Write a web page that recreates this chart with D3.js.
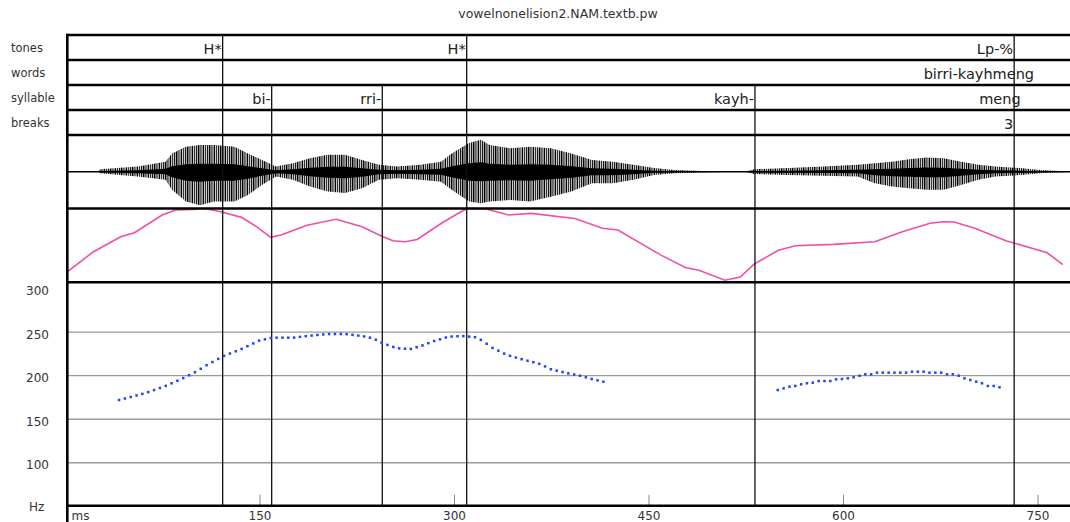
<!DOCTYPE html>
<html><head><meta charset="utf-8">
<script src="https://cdn.jsdelivr.net/npm/d3@7"></script>
<style>html,body{margin:0;padding:0;background:#fff}svg{display:block}text{font-family:"DejaVu Sans",sans-serif}</style>
</head><body><svg id="c" width="1070" height="522"></svg>
<script>
// ---------------- data ----------------
const title = "vowelnonelision2.NAM.textb.pw";
const tierNames = ["tones", "words", "syllable", "breaks"];
const toneTimes = [121.2, 309.4, 731.6];
const toneLabels = ["H*", "H*", "Lp-%"];
const wordTimes = [747.7];
const wordLabels = ["birri-kayhmeng"];
const syllableTimes = [159.0, 244.3, 531.7, 737.4];
const syllableLabels = ["bi-", "rri-", "kayh-", "meng"];
const syllableBoundaries = [159.0, 244.3, 531.7];
const breakTimes = [731.6];
const breakLabels = ["3"];
const timeTicks = [150, 300, 450, 600, 750];
const hzTicks = [100, 150, 200, 250, 300];
const hzGrid = [100, 150, 200, 250];

// waveform envelope (normalised amplitude)
const waveTimes = [0, 25.8, 26.6, 55.9, 77.1, 82.1, 92.9, 103.7, 114.5, 130.3, 140.7, 151.5, 162.3, 175.4, 188.5, 202.1, 215.5, 228.7, 241.8, 255.3, 273.9, 289.6, 297.8, 311.2, 320.4, 327.1, 342.8, 358.2, 374.2, 390.1, 406, 422.1, 438, 453.9, 469.9, 491.2, 517.9, 524, 531, 557.6, 584.2, 610.9, 624.1, 637.4, 650.5, 664.1, 677.3, 690.6, 703.9, 717.2, 735.9, 751.5, 780];
const waveUpper = [0, 0, 0.07, 0.14, 0.27, 0.50, 0.68, 0.73, 0.73, 0.68, 0.50, 0.32, 0.14, 0.23, 0.37, 0.46, 0.46, 0.32, 0.19, 0.14, 0.19, 0.27, 0.50, 0.78, 0.87, 0.73, 0.64, 0.68, 0.64, 0.50, 0.32, 0.27, 0.19, 0.10, 0.05, 0.02, 0, 0, 0.07, 0.10, 0.14, 0.19, 0.23, 0.27, 0.34, 0.39, 0.37, 0.27, 0.19, 0.14, 0.10, 0.05, 0];
const waveLower = [0, 0, -0.04, -0.13, -0.22, -0.49, -0.81, -0.91, -0.81, -0.81, -0.63, -0.36, -0.13, -0.22, -0.40, -0.54, -0.58, -0.45, -0.22, -0.18, -0.22, -0.27, -0.49, -0.81, -0.86, -0.81, -0.77, -0.81, -0.68, -0.54, -0.31, -0.31, -0.22, -0.09, -0.04, -0.02, 0, 0, -0.06, -0.09, -0.11, -0.13, -0.31, -0.40, -0.45, -0.49, -0.49, -0.36, -0.22, -0.13, -0.09, -0.04, 0];

// intensity (dB)
const intensityTimes = [1.3, 21.3, 42.6, 53.2, 74.5, 85.1, 98.4, 106.3, 119.7, 135.7, 147.6, 158.2, 166.2, 186.2, 208.8, 228.7, 244.7, 252.6, 262, 271.2, 289.9, 305.9, 311.2, 324.4, 341.7, 359, 392.8, 414.1, 426, 459.2, 477.9, 488.5, 508.4, 520.4, 531, 549.7, 563, 592.2, 624.1, 645.4, 666.7, 677.3, 685.3, 701.2, 725.2, 757.1, 769.1];
const intensityDb = [44.9, 54.4, 61.6, 63.5, 71.9, 74.3, 74.6, 75.1, 73.5, 70.8, 66.3, 61.3, 62.4, 67.1, 69.9, 66.3, 61.6, 59.7, 59.2, 60.3, 68.0, 73.8, 75.1, 74.8, 71.9, 72.7, 70.3, 65.6, 64.8, 52.9, 47.0, 45.7, 41.0, 42.5, 48.6, 55.2, 57.3, 58.0, 59.2, 64.0, 68.0, 68.7, 68.6, 65.6, 59.7, 54.0, 48.4];

// F0 (Hz), two voiced stretches
const f0Times1 = [41.3, 45.8, 50.3, 54.8, 59.3, 63.8, 68.3, 72.8, 77.3, 81.8, 86.3, 90.8, 95.3, 99.8, 104.3, 108.8, 113.3, 117.8, 122.3, 126.8, 131.3, 135.8, 140.3, 144.8, 149.3, 153.8, 158.3, 162.8, 167.3, 171.8, 176.3, 180.8, 185.3, 189.8, 194.3, 198.8, 203.3, 207.8, 212.3, 216.8, 221.3, 225.8, 230.3, 234.8, 239.3, 243.8, 248.3, 252.8, 257.3, 261.8, 266.3, 270.8, 275.3, 279.8, 284.3, 288.8, 293.3, 297.8, 302.3, 306.8, 311.3, 315.8, 320.3, 324.8, 329.3, 333.8, 338.3, 342.8, 347.3, 351.8, 356.3, 360.8, 365.3, 369.8, 374.3, 378.8, 383.3, 387.8, 392.3, 396.8, 401.3, 405.8, 410.3, 414.8];
const f0Values1 = [172.1, 173.8, 175.6, 177.3, 179.1, 181.2, 183.5, 185.9, 188.3, 191.3, 194.2, 197.3, 200.5, 204, 208, 212, 215.7, 219.3, 222.8, 225.5, 228.1, 230.8, 233.9, 237.1, 240.3, 241.8, 243.3, 243.7, 243.7, 243.7, 243.8, 244.6, 245.4, 246.1, 246.8, 247.4, 247.9, 247.9, 247.9, 247.7, 246.9, 246.1, 245.1, 243.7, 241.3, 238, 235.4, 233, 231.4, 231, 230.8, 232.7, 234.8, 237.4, 239.9, 241.8, 243.9, 245, 245.3, 245.5, 244.9, 244.3, 241.2, 236.7, 232, 228.7, 225.4, 222.9, 220.9, 219, 217.2, 215.5, 213.7, 210.7, 207.4, 205.8, 204.2, 202.7, 201.4, 200, 198.2, 196.3, 194.7, 193.1];
const f0Times2 = [549.3, 553.8, 558.3, 562.8, 567.3, 571.8, 576.3, 580.8, 585.3, 589.8, 594.3, 598.8, 603.3, 607.8, 612.3, 616.8, 621.3, 625.8, 630.3, 634.8, 639.3, 643.8, 648.3, 652.8, 657.3, 661.8, 666.3, 670.8, 675.3, 679.8, 684.3, 688.8, 693.3, 697.8, 702.3, 706.8, 711.3, 715.8, 720.3];
const f0Values2 = [183.6, 185.5, 187.4, 188.2, 190.1, 191.3, 192, 193.9, 193.9, 193.9, 195.8, 196.2, 197, 198.2, 200, 201.6, 201.6, 203.5, 203.5, 203.5, 203.5, 203.5, 203.5, 204.6, 204.6, 204.6, 203.5, 203.5, 203.5, 201.6, 201.6, 200, 197, 195.1, 193.1, 191.3, 188.2, 188.2, 186.7];

// ---------------- layout ----------------
const W = 1070, H = 522;
const frameLeft = 67.3;
const rows = [35, 60, 85, 110, 135];   // tier row borders
const waveTop = 135, waveBot = 208.5, intTop = 208.5, intBot = 282.3, pTop = 282.3, pBot = 505.8;

const svg = d3.select("#c");
svg.append("rect").attr("width", W).attr("height", H).attr("fill", "#fff");

const x = d3.scaleLinear().domain([0, 780]).range([65.5, 65.5 + 780 * 1.2967]);
const yWave = d3.scaleLinear().domain([-1, 1]).range([waveBot, waveTop]);
const yInt = d3.scaleLinear().domain([40, 75]).range([intBot, intTop]);
const yHz = d3.scaleLinear().domain([50, 307.3]).range([506.3, pTop]);

// spiky texture used to paint the waveform envelope
const defs = svg.append("defs");
const pat = defs.append("pattern").attr("id", "spk").attr("patternUnits", "userSpaceOnUse")
  .attr("width", 11).attr("height", 100);
[[0, 1.5], [2.4, 1.1], [4.6, 1.6], [7.2, 1.0], [9.1, 1.2]].forEach(([px, pw]) =>
  pat.append("rect").attr("x", px).attr("y", 0).attr("width", pw).attr("height", 100).attr("fill", "#000"));
defs.append("clipPath").attr("id", "clipWave").append("rect")
  .attr("x", frameLeft).attr("y", waveTop).attr("width", W).attr("height", waveBot - waveTop);
defs.append("clipPath").attr("id", "clipInt").append("rect")
  .attr("x", frameLeft).attr("y", intTop - 1).attr("width", W).attr("height", intBot - intTop + 2);

// title
svg.append("text").attr("x", 558).attr("y", 18).attr("text-anchor", "middle")
  .attr("font-size", 12.5).attr("fill", "#333").text(title);

// tier names
tierNames.forEach((n, i) => {
  svg.append("text").attr("x", 11).attr("y", rows[i] + 17).attr("font-size", 11.5)
    .attr("fill", "#333").text(n);
});

// pitch grid
svg.append("g").selectAll("line").data(hzGrid).join("line")
  .attr("x1", frameLeft).attr("x2", W).attr("y1", d => yHz(d)).attr("y2", d => yHz(d))
  .attr("stroke", "#9a9a9a").attr("stroke-width", 1.3);

// time ticks
svg.append("g").selectAll("line").data(timeTicks).join("line")
  .attr("x1", d => x(d)).attr("x2", d => x(d)).attr("y1", pBot - 11).attr("y2", pBot)
  .attr("stroke", "#888").attr("stroke-width", 1);
svg.append("g").selectAll("text").data(timeTicks).join("text")
  .attr("x", d => x(d)).attr("y", 519.5).attr("text-anchor", "middle")
  .attr("font-size", 12).attr("fill", "#333").text(d => d);
svg.append("text").attr("x", 71.5).attr("y", 519.5).attr("font-size", 12).attr("fill", "#333").text("ms");

// Hz labels
svg.append("g").selectAll("text").data(hzTicks).join("text")
  .attr("x", 49).attr("y", d => yHz(d) + 6.5).attr("text-anchor", "end")
  .attr("font-size", 12).attr("fill", "#333").text(d => d);
svg.append("text").attr("x", 29).attr("y", 511).attr("font-size", 12).attr("fill", "#333").text("Hz");

// waveform
const wg = svg.append("g").attr("clip-path", "url(#clipWave)");
wg.append("line").attr("x1", frameLeft).attr("x2", W).attr("y1", yWave(0)).attr("y2", yWave(0))
  .attr("stroke", "#000").attr("stroke-width", 1.3);
const idxW = d3.range(waveTimes.length);
wg.append("path").datum(idxW)
  .attr("d", d3.area().x(i => x(waveTimes[i])).y0(i => yWave(waveLower[i])).y1(i => yWave(waveUpper[i])))
  .attr("fill", "url(#spk)");
wg.append("path").datum(idxW)
  .attr("d", d3.area().x(i => x(waveTimes[i])).y0(i => yWave(waveLower[i] * 0.3)).y1(i => yWave(waveUpper[i] * 0.3)))
  .attr("fill", "#000");

// intensity
const idxI = d3.range(intensityTimes.length);
svg.append("g").attr("clip-path", "url(#clipInt)").append("path").datum(idxI)
  .attr("d", d3.line().x(i => x(intensityTimes[i])).y(i => yInt(intensityDb[i])))
  .attr("fill", "none").attr("stroke", "#f04fa6").attr("stroke-width", 1.6);

// boundary lines
svg.append("g").selectAll("line").data(toneTimes).join("line")
  .attr("x1", d => x(d)).attr("x2", d => x(d)).attr("y1", rows[0]).attr("y2", pBot)
  .attr("stroke", "#111").attr("stroke-width", 1.3);
svg.append("g").selectAll("line").data(syllableBoundaries).join("line")
  .attr("x1", d => x(d)).attr("x2", d => x(d)).attr("y1", rows[2]).attr("y2", pBot)
  .attr("stroke", "#111").attr("stroke-width", 1.3);

// F0 dots
const f0 = f0Times1.map((t, i) => [t, f0Values1[i]]).concat(f0Times2.map((t, i) => [t, f0Values2[i]]));
svg.append("g").selectAll("rect").data(f0).join("rect")
  .attr("x", d => x(d[0]) - 1.25).attr("y", d => yHz(d[1]) - 1.25).attr("width", 2.5).attr("height", 2.5)
  .attr("fill", "#1f45f2");

// tier labels
function tierText(times, labels, row) {
  svg.append("g").selectAll("text").data(times).join("text")
    .attr("x", d => x(d) - 1).attr("y", rows[row] + 18.5).attr("text-anchor", "end")
    .attr("font-size", 14.5).attr("fill", "#222").text((d, i) => labels[i]);
}
tierText(toneTimes, toneLabels, 0);
tierText(wordTimes, wordLabels, 1);
tierText(syllableTimes, syllableLabels, 2);
tierText(breakTimes, breakLabels, 3);

// panel borders
const borders = rows.concat([waveBot, intBot, pBot]);
svg.append("g").selectAll("line").data(borders).join("line")
  .attr("x1", frameLeft - 1.2).attr("x2", W).attr("y1", d => d).attr("y2", d => d)
  .attr("stroke", "#000").attr("stroke-width", 2.6);
svg.append("line").attr("x1", frameLeft).attr("x2", frameLeft).attr("y1", rows[0] - 1.2).attr("y2", H)
  .attr("stroke", "#000").attr("stroke-width", 2.6);
</script></body></html>
